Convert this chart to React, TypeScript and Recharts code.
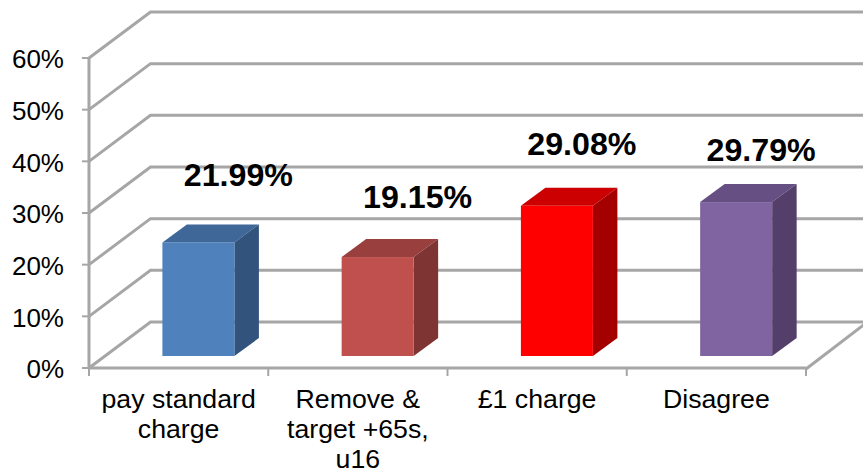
/**
 * 3D-look column chart: oblique grid walls and extruded bars drawn from the Recharts scales.
 */
import { BarChart, Bar, XAxis, YAxis, CartesianGrid, LabelList } from "recharts";

const categories = ["pay standard\ncharge", "Remove &\ntarget +65s,\nu16", "£1 charge", "Disagree"];
const shares = [21.99, 19.15, 29.08, 29.79];
const yTicks = [0, 10, 20, 30, 40, 50, 60];

const data = categories.map((name, i) => ({ name, share: shares[i] }));

// front, top, side
const faces = [
  ["#4f81bd", "#3f6797", "#31537c"],
  ["#c0504d", "#993f3d", "#7d3432"],
  ["#ff0000", "#cc0000", "#a50000"],
  ["#8064a2", "#664f82", "#533f6a"],
];
// hand placed labels in the original
const labelNudge = [
  [40, -56],
  [40, -49],
  [25, -51],
  [25, -41],
];

const FONT = '"Liberation Sans", Arial, sans-serif';
const GRID = "#a6a6a6";
const LINE_W = 3;
const WALL_DX = 61.5;
const WALL_DY = -46;
const BAR_SHIFT_X = 19.4;
const BAR_SHIFT_Y = -12;
const DEPTH_X = 24.5;
const DEPTH_Y = -18;
const TICK_LEN = 8;

function WallLine(props: any) {
  const { x1, x2, y1, index } = props;
  const bx = x1 + WALL_DX;
  const by = y1 + WALL_DY;
  const isFloor = y1 >= 367;
  return (
    <g key={index} stroke={GRID} strokeWidth={LINE_W} fill="none">
      <polyline points={`${x1},${y1} ${bx},${by} ${x2 + WALL_DX},${by}`} />
      {isFloor ? <line x1={x2} y1={y1 + 1} x2={x2 + WALL_DX} y2={by} /> : null}
      {isFloor
        ? [0, 1, 2, 3, 4].map((i) => {
            // ticks sit between the categories, on the band edges
            const tx = x1 + ((x2 - x1) * i) / categories.length;
            return <line key={i} x1={tx} y1={y1} x2={tx} y2={y1 + TICK_LEN} strokeWidth={2} />;
          })
        : null}
    </g>
  );
}

function Box(props: any) {
  const { x, y, width, height, index } = props;
  const [front, top, side] = faces[index];
  const l = x + BAR_SHIFT_X;
  const t = y + BAR_SHIFT_Y;
  const r = l + width;
  const b = t + height;
  return (
    <g>
      <polygon points={`${l},${t} ${l + DEPTH_X},${t + DEPTH_Y} ${r + DEPTH_X},${t + DEPTH_Y} ${r},${t}`} fill={top} />
      <polygon points={`${r},${t} ${r + DEPTH_X},${t + DEPTH_Y} ${r + DEPTH_X},${b + DEPTH_Y} ${r},${b}`} fill={side} />
      <rect x={l} y={t} width={width} height={height} fill={front} />
    </g>
  );
}

function ValueLabel(props: any) {
  const { x, y, width, value, index } = props;
  const [nx, ny] = labelNudge[index];
  return (
    <text
      x={x + width / 2 + BAR_SHIFT_X + nx}
      y={y + BAR_SHIFT_Y + ny}
      textAnchor="middle"
      fontFamily={FONT}
      fontSize={32.2}
      fontWeight="bold"
      fill="#000"
    >
      {value.toFixed(2)}%
    </text>
  );
}

function CategoryTick(props: any) {
  const { x, payload } = props;
  return (
    <text x={x} y={408} textAnchor="middle" fontFamily={FONT} fontSize={26.7} fill="#000">
      {String(payload.value)
        .split("\n")
        .map((line, i) => (
          <tspan key={line} x={x} y={408 + i * 30}>
            {line}
          </tspan>
        ))}
    </text>
  );
}

export default function App() {
  return (
    <div style={{ position: "absolute", left: 0, top: 0, background: "#fff" }}>
      <BarChart
        width={863}
        height={474}
        data={data}
        margin={{ top: 58, right: 57, bottom: 0, left: 0 }}
        barSize={72}
      >
        <CartesianGrid vertical={false} horizontal={WallLine} />
        <XAxis
          dataKey="name"
          height={106}
          interval={0}
          tickLine={false}
          axisLine={{ stroke: GRID, strokeWidth: LINE_W }}
          tick={CategoryTick}
        />
        <YAxis
          width={89}
          domain={[0, 60]}
          ticks={yTicks}
          interval={0}
          tickSize={7}
          tickMargin={18}
          tickFormatter={(v: number) => `${v}%`}
          axisLine={{ stroke: GRID, strokeWidth: LINE_W }}
          tickLine={{ stroke: GRID, strokeWidth: 2 }}
          tick={{ fontFamily: FONT, fontSize: 26, fill: "#000", dy: 1 }}
        />
        <Bar dataKey="share" shape={Box} isAnimationActive={false}>
          <LabelList dataKey="share" content={ValueLabel} />
        </Bar>
      </BarChart>
    </div>
  );
}
